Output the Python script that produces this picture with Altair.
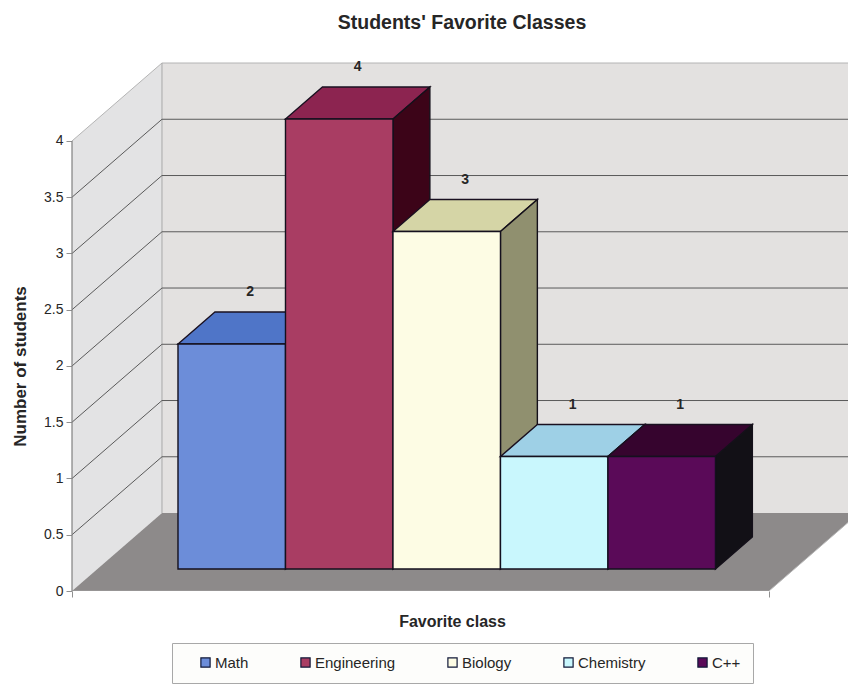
import altair as alt
import pandas as pd

# Chart values
classes = ["Math", "Engineering", "Biology", "Chemistry", "C++"]
counts = [2, 4, 3, 1, 1]
front_colors = ["#6c8dd9", "#a93d63", "#fdfce4", "#c9f7fd", "#5a0a58"]
top_colors = ["#4f75c8", "#8c2450", "#d5d5a6", "#9ed0e6", "#36042e"]
side_colors = ["#2f4a80", "#3c0418", "#90906f", "#6f9aa5", "#121016"]
y_ticks = [0, 0.5, 1, 1.5, 2, 2.5, 3, 3.5, 4]

# Oblique projection: one unit of depth shifts a point right and up
DEPTH_X = 0.837
DEPTH_Y = 0.693
BAR_FRONT = 0.282
BAR_BACK = 0.692
BAR_MID = (BAR_FRONT + BAR_BACK) / 2
FLOOR_WIDTH = 6.484
GAP = 0.75
FONT = "Liberation Sans"
DARK = "#262626"

x_scale = alt.Scale(domain=[0, 7.219], nice=False, zero=False)
y_scale = alt.Scale(domain=[0, 4.702], nice=False, zero=False)
X = lambda f="x", **kw: alt.X(f"{f}:Q", scale=x_scale, **kw)
Y = lambda f="y", **kw: alt.Y(f"{f}:Q", scale=y_scale, **kw)


def upright_face(u0, d0, u1, d1, v0, v1, color, stroke=None):
    """Face with vertical edges, running from (u0, d0) to (u1, d1) between levels v0 and v1."""
    df = pd.DataFrame({
        "x": [u0 + d0 * DEPTH_X, u1 + d1 * DEPTH_X],
        "y": [v0 + d0 * DEPTH_Y, v0 + d1 * DEPTH_Y],
        "y2": [v1 + d0 * DEPTH_Y, v1 + d1 * DEPTH_Y],
    })
    kw = {"stroke": stroke, "strokeWidth": 1.4} if stroke else {}
    return alt.Chart(df).mark_area(orient="vertical", color=color, clip=True, **kw).encode(
        x=X(), y=Y(), y2="y2:Q"
    )


def flat_face(u0, u1, d0, d1, v, color, stroke=None):
    """Horizontal face at level v, spanning u0..u1 and depths d0..d1."""
    df = pd.DataFrame({
        "y": [v + d0 * DEPTH_Y, v + d1 * DEPTH_Y],
        "x": [u0 + d0 * DEPTH_X, u0 + d1 * DEPTH_X],
        "x2": [u1 + d0 * DEPTH_X, u1 + d1 * DEPTH_X],
    })
    kw = {"stroke": stroke, "strokeWidth": 1.4} if stroke else {}
    return alt.Chart(df).mark_area(orient="horizontal", color=color, clip=True, **kw).encode(
        x=X(), x2="x2:Q", y=Y()
    )


def line(points, color, width=1.0):
    df = pd.DataFrame(points, columns=["x", "y"])
    df["o"] = range(len(df))
    return alt.Chart(df).mark_line(color=color, strokeWidth=width, clip=True).encode(
        x=X(), y=Y(), order="o:Q"
    )


layers = []
top_v = y_ticks[-1]

# The left edge of the chart carries both axes; the other layers inherit them when merged
axis_df = pd.DataFrame({"x": [0, 0], "y": [0, top_v]})
layers.append(
    alt.Chart(axis_df).mark_line(color="#808080", strokeWidth=1.2).encode(
        x=alt.X("x:Q", scale=x_scale, axis=alt.Axis(
            values=[0, FLOOR_WIDTH], labels=False, grid=False, domain=False,
            ticks=True, tickSize=6, tickColor="#909090", title="Favorite class",
            titleFont=FONT, titleFontSize=16, titleFontWeight="bold", titleColor=DARK,
            titleX=380, titleY=30, titleAnchor="middle", titleAlign="center",
            titleBaseline="middle")),
        y=alt.Y("y:Q", scale=y_scale, axis=alt.Axis(
            values=y_ticks, grid=False, domain=False, tickSize=6, tickColor="#909090",
            labelFont=FONT, labelFontSize=14, labelColor=DARK, labelPadding=3,
            format="~g", title="Number of students",
            titleFont=FONT, titleFontSize=17, titleFontWeight="bold", titleColor=DARK,
            titleX=-52, titleY=304, titleAngle=270, titleBaseline="middle")),
    )
)

# Walls and floor
layers.append(upright_face(0, 0, 0, 1, 0, top_v, "#e3e3e4"))
layers.append(upright_face(0, 1, 7.4, 1, 0, top_v, "#e3e1e0"))
layers.append(flat_face(0, FLOOR_WIDTH, 0, 1, 0, "#8d8a8a"))

# Wall outline
layers.append(line([(0, top_v), (DEPTH_X, top_v + DEPTH_Y), (7.4, top_v + DEPTH_Y)], "#b4b4b4"))
layers.append(line([(DEPTH_X, DEPTH_Y), (DEPTH_X, top_v + DEPTH_Y)], "#a8a8a8"))
layers.append(line([(FLOOR_WIDTH, 0), (FLOOR_WIDTH + DEPTH_X, DEPTH_Y)], "#b8b8b8"))

# Gridlines on the left and back walls
for v in y_ticks[1:-1]:
    layers.append(line([(0, v), (DEPTH_X, v + DEPTH_Y), (7.4, v + DEPTH_Y)], "#5a5a5a"))

# Front edges of the chart
layers.append(line([(0, 0), (0, top_v)], "#808080", 1.2))
layers.append(line([(0, 0), (FLOOR_WIDTH, 0)], "#a0a0a0"))

# Bars, drawn left to right so each one overlaps its neighbour's side
color_scale = alt.Scale(domain=classes, range=front_colors)
legend = alt.Legend(
    title=None, orient="none", legendX=100, legendY=581, direction="horizontal",
    columns=5, gridAlign="none", columnPadding=35, padding=12, symbolOffset=14,
    symbolType="square", symbolSize=85, symbolStrokeColor="#101838", symbolStrokeWidth=1.2,
    labelFont=FONT, labelFontSize=15, labelColor=DARK, labelOffset=2,
    fillColor="#fdfdfb", strokeColor="#a8a8a8",
)
for i, (name, value) in enumerate(zip(classes, counts)):
    u0, u1 = GAP + i, GAP + i + 1
    layers.append(flat_face(u0, u1, BAR_FRONT, BAR_BACK, value, top_colors[i], "#1a1020"))
    layers.append(upright_face(u1, BAR_FRONT, u1, BAR_BACK, 0, value, side_colors[i], "#14101a"))
    front = pd.DataFrame({
        "Class": [name],
        "x": [u0 + BAR_FRONT * DEPTH_X],
        "x2": [u1 + BAR_FRONT * DEPTH_X],
        "y": [BAR_FRONT * DEPTH_Y],
        "y2": [value + BAR_FRONT * DEPTH_Y],
    })
    layers.append(
        alt.Chart(front).mark_rect(stroke="#14101e", strokeWidth=1.4).encode(
            x=X(), x2="x2:Q", y=Y(), y2="y2:Q",
            color=alt.Color("Class:N", scale=color_scale, legend=legend),
        )
    )

# Value labels above each bar
labels = pd.DataFrame({
    "value": counts,
    "x": [GAP + i + 0.5 + BAR_MID * DEPTH_X for i in range(len(counts))],
    "y": [c + BAR_MID * DEPTH_Y for c in counts],
})
layers.append(
    alt.Chart(labels).mark_text(
        font=FONT, fontSize=14, fontWeight="bold", color=DARK, dy=-36, baseline="middle"
    ).encode(x=X(), y=Y(), text="value:Q")
)

chart = alt.layer(*layers).properties(
    width=776,
    height=529,
    padding={"left": 72, "top": 62, "right": 0, "bottom": 103},
    autosize=alt.AutoSizeParams(type="none"),
    background="#ffffff",
    title=alt.TitleParams(
        "Students' Favorite Classes", font=FONT, fontSize=19.5, fontWeight="bold",
        color=DARK, anchor="middle", dx=2, offset=27,
    ),
).configure_view(stroke=None)

chart.save("out.html", embed_options={"renderer": "svg", "actions": False})
